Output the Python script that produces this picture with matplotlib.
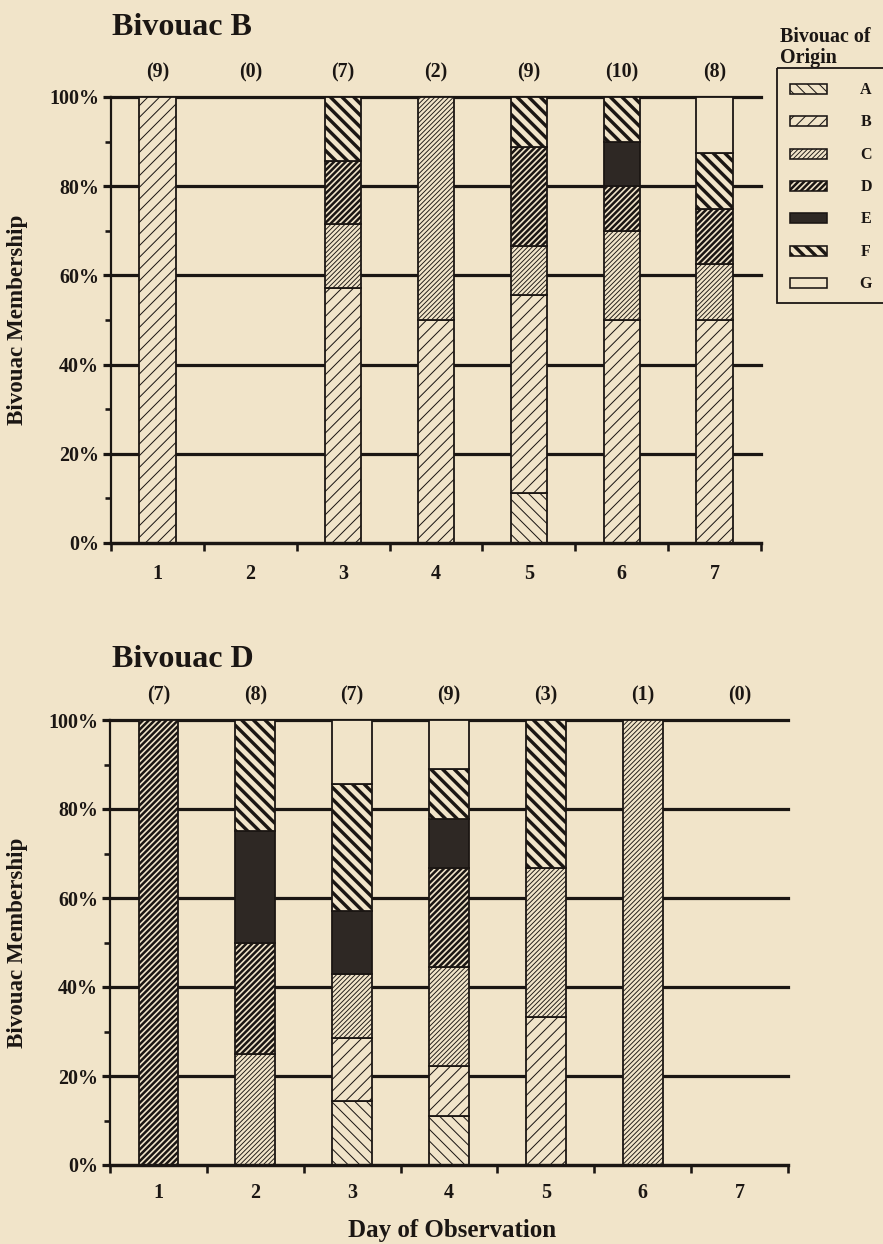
import matplotlib
matplotlib.use("Agg")
import matplotlib.pyplot as plt
from matplotlib.patches import Rectangle
import numpy as np

# ---------------- data ----------------
days = [1, 2, 3, 4, 5, 6, 7]
day_labels = ["1", "2", "3", "4", "5", "6", "7"]
origins = ["A", "B", "C", "D", "E", "F", "G"]

# Bivouac B membership counts by bivouac of origin, per day
bivB_A = [0, 0, 0, 0, 1, 0, 0]
bivB_B = [9, 0, 4, 1, 4, 5, 4]
bivB_C = [0, 0, 1, 1, 1, 2, 1]
bivB_D = [0, 0, 1, 0, 2, 1, 1]
bivB_E = [0, 0, 0, 0, 0, 1, 0]
bivB_F = [0, 0, 1, 0, 1, 1, 1]
bivB_G = [0, 0, 0, 0, 0, 0, 1]

# Bivouac D membership counts by bivouac of origin, per day
bivD_A = [0, 0, 1, 1, 0, 0, 0]
bivD_B = [0, 0, 1, 1, 1, 0, 0]
bivD_C = [0, 2, 1, 2, 1, 1, 0]
bivD_D = [7, 2, 0, 2, 0, 0, 0]
bivD_E = [0, 2, 1, 1, 0, 0, 0]
bivD_F = [0, 2, 2, 1, 1, 0, 0]
bivD_G = [0, 0, 1, 1, 0, 0, 0]

y_ticks = [0, 20, 40, 60, 80, 100]
y_tick_labels = ["0%", "20%", "40%", "60%", "80%", "100%"]

# ---------------- style ----------------
DPI = 70
W, H = 883, 1244
BG = "#F1E4C9"
INK = "#1B1613"
DARK = "#2E2824"


def pt(p):
    return p * 72.0 / DPI


plt.rcParams["font.family"] = ["Liberation Serif", "DejaVu Serif"]
plt.rcParams["font.weight"] = "bold"
plt.rcParams["hatch.color"] = INK

style = {
    "A": dict(fc=BG, hatch="\\\\", hlw=1.0),
    "B": dict(fc=BG, hatch="//", hlw=1.0),
    "C": dict(fc=BG, hatch="/////", hlw=0.9),
    "D": dict(fc=BG, hatch="////", hlw=2.5),
    "E": dict(fc=DARK, hatch=None, hlw=1.0),
    "F": dict(fc=BG, hatch="\\\\", hlw=3.4),
    "G": dict(fc=BG, hatch=None, hlw=1.0),
}


def set_hlw(patch, w):
    try:
        patch.set_hatch_linewidth(pt(w))
    except AttributeError:
        pass


fig = plt.figure(figsize=(W / DPI, H / DPI), dpi=DPI, facecolor=BG)


def draw_panel(rect, counts, width, title, title_base, xlab_pad):
    ax = fig.add_axes(rect)
    ax.set_facecolor(BG)
    totals = np.sum([counts[o] for o in origins], axis=0).astype(float)
    bottom = np.zeros(len(days))
    for o in origins:
        c = np.array(counts[o], dtype=float)
        pctv = np.divide(c * 100.0, totals, out=np.zeros(len(days)), where=totals > 0)
        s = style[o]
        bars = ax.bar(days, pctv, width, bottom=bottom, facecolor=s["fc"],
                      edgecolor=INK, linewidth=pt(1.8), hatch=s["hatch"], zorder=3)
        for b, v in zip(bars, pctv):
            set_hlw(b, s["hlw"])
            if v == 0:
                b.set_visible(False)
        bottom += pctv

    for y in y_ticks[1:]:
        ax.axhline(y, color=INK, lw=pt(3.2), zorder=1, clip_on=False)

    ax.set_xlim(0.5, 7.5)
    ax.set_ylim(0, 100)
    for sp in ("top", "right"):
        ax.spines[sp].set_visible(False)
    ax.spines["left"].set_linewidth(pt(2.2))
    ax.spines["bottom"].set_linewidth(pt(3.4))
    ax.spines["left"].set_color(INK)
    ax.spines["bottom"].set_color(INK)
    ax.spines["bottom"].set_zorder(4)

    ax.set_xticks(days)
    ax.set_xticklabels(day_labels)
    ax.set_xticks(np.arange(0.5, 8.0, 1.0), minor=True)
    ax.tick_params(axis="x", which="major", length=0, pad=pt(xlab_pad),
                   labelsize=pt(20), colors=INK)
    ax.tick_params(axis="x", which="minor", length=pt(8), width=pt(2.6),
                   direction="out", color=INK)

    ax.set_yticks(y_ticks)
    ax.set_yticklabels(y_tick_labels)
    ax.set_yticks([10, 30, 50, 70, 90], minor=True)
    ax.tick_params(axis="y", which="major", length=pt(8), width=pt(3.2),
                   pad=pt(4), labelsize=pt(20), colors=INK)
    ax.tick_params(axis="y", which="minor", length=pt(6), width=pt(2.6), color=INK)

    for d, n in zip(days, totals):
        ax.annotate(f"({int(n)})", xy=(d, 100), xytext=(0, pt(25)),
                    textcoords="offset points", ha="center", va="center",
                    fontsize=pt(20), fontweight="bold", color=INK,
                    annotation_clip=False)

    fig.text(112 / W, 1 - title_base / H, title, fontsize=pt(32),
             fontweight="bold", ha="left", va="baseline", color=INK)
    cy = rect[1] + rect[3] / 2
    fig.text(18 / W, cy, "Bivouac Membership", rotation=90, ha="center",
             va="center", fontsize=pt(23), fontweight="bold", color=INK)
    return ax


countsB = dict(zip(origins, [bivB_A, bivB_B, bivB_C, bivB_D, bivB_E, bivB_F, bivB_G]))
countsD = dict(zip(origins, [bivD_A, bivD_B, bivD_C, bivD_D, bivD_E, bivD_F, bivD_G]))

draw_panel([111 / W, 1 - 543 / H, 650 / W, 446 / H], countsB, 0.39, "Bivouac B", 35, 21)
draw_panel([110 / W, 1 - 1165 / H, 678 / W, 445 / H], countsD, 0.41, "Bivouac D", 667, 18)

fig.text(452 / W, 1 - 1231 / H, "Day of Observation", ha="center", va="center",
         fontsize=pt(25), fontweight="bold", color=INK)

# ---------------- legend ----------------
lax = fig.add_axes([0, 0, 1, 1], zorder=10)
lax.set_xlim(0, W)
lax.set_ylim(H, 0)
lax.axis("off")
fig.text(780 / W, 1 - 42 / H, "Bivouac of", fontsize=pt(20), fontweight="bold",
         ha="left", va="baseline", color=INK)
fig.text(780 / W, 1 - 63 / H, "Origin", fontsize=pt(20), fontweight="bold",
         ha="left", va="baseline", color=INK)
lax.add_patch(Rectangle((777, 68), 150, 235, fill=False, edgecolor=INK,
                        lw=pt(1.8), clip_on=False))
for i, o in enumerate(origins):
    yc = 89 + i * 32.3
    s = style[o]
    r = Rectangle((790, yc - 5), 37, 10, facecolor=s["fc"], edgecolor=INK,
                  lw=pt(1.6), hatch=s["hatch"], clip_on=False)
    set_hlw(r, s["hlw"])
    lax.add_patch(r)
    lax.text(866, yc + 1, o, ha="center", va="center", fontsize=pt(16),
             fontweight="bold", color=INK)

fig.savefig("out.png", dpi=DPI, facecolor=BG)
